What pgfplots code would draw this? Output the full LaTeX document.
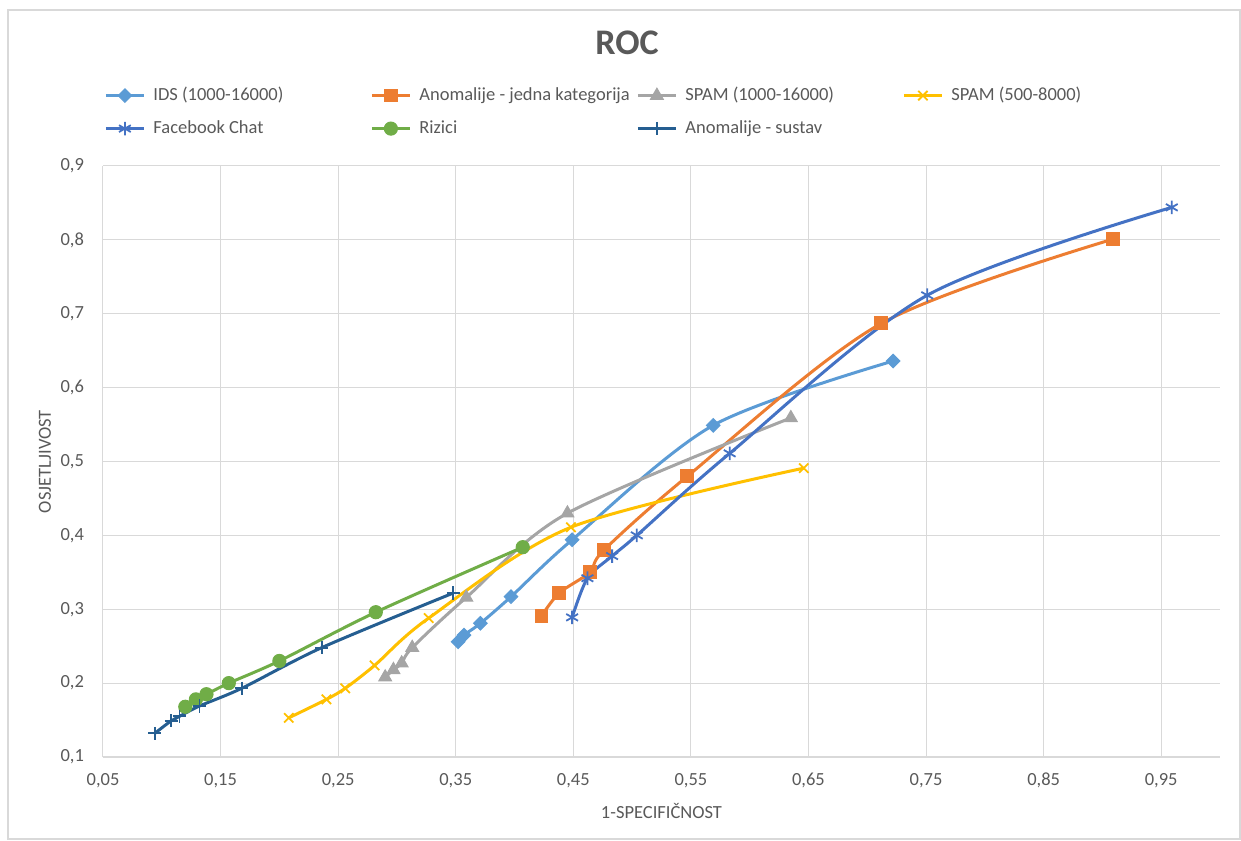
\documentclass[border=0pt]{standalone}
\usepackage{pgfplots}
\pgfplotsset{compat=1.18}
\usepackage{fontspec}
\setmainfont{Carlito}
\definecolor{txt}{HTML}{595959}
\definecolor{gridc}{HTML}{D9D9D9}
\definecolor{cIDS}{HTML}{5B9BD5}
\definecolor{cAJ}{HTML}{ED7D31}
\definecolor{cSa}{HTML}{A5A5A5}
\definecolor{cSb}{HTML}{FFC000}
\definecolor{cFB}{HTML}{4472C4}
\definecolor{cRZ}{HTML}{70AD47}
\definecolor{cAS}{HTML}{255E91}
\begin{document}
\begin{tikzpicture}
\path[use as bounding box] (-51.5pt,-41.5pt) rectangle (569pt,378.5pt);
\draw[gridc, line width=0.75pt] (-47.5pt,-41pt) rectangle (568.5pt,373.5pt);
\begin{axis}[
  at={(0pt,0pt)}, anchor=south west, scale only axis,
  width=558.5pt, height=295.5pt,
  xmin=0.05, xmax=1.0, ymin=0.1, ymax=0.9,
  xtick={0.05,0.15,0.25,0.35,0.45,0.55,0.65,0.75,0.85,0.95},
  ytick={0.1,0.2,0.3,0.4,0.5,0.6,0.7,0.8,0.9},
  scaled ticks=false,
  grid=major, major grid style={gridc, line width=0.5pt},
  axis x line*=bottom, axis y line*=left,
  y axis line style={draw=none},
  x axis line style={draw=gridc, line width=0.6pt},
  tick style={draw=none},
  /pgf/number format/assume math mode=true,
  ticklabel style={font=\fontsize{9.25}{11}\selectfont, text=txt},
  xticklabel style={/pgf/number format/fixed, /pgf/number format/fixed zerofill, /pgf/number format/precision=2, /pgf/number format/use comma, yshift=-4.5pt},
  yticklabel style={/pgf/number format/fixed, /pgf/number format/fixed zerofill, /pgf/number format/precision=1, /pgf/number format/use comma, xshift=-6pt},
  xlabel={1-SPECIFIČNOST}, ylabel={OSJETLJIVOST},
  every axis x label/.style={at={(axis description cs:0.5,0)}, anchor=center, yshift=-27pt, font=\fontsize{9.25}{11}\selectfont, text=txt},
  every axis y label/.style={at={(axis description cs:0,0.5)}, anchor=center, rotate=90, yshift=29pt, font=\fontsize{9.25}{11}\selectfont, text=txt},
  legend columns=4,
  legend cell align=left,
  legend image code/.code={\draw[mark repeat=2,mark phase=2,#1] plot coordinates {(0pt,0pt) (9.5pt,0pt) (19pt,0pt)};},
  legend style={at={(axis description cs:0,1)}, anchor=south west, xshift=0.5pt, yshift=13pt,
    draw=none, fill=none, inner sep=0pt, row sep=5.5pt,
    font=\fontsize{9.25}{11}\selectfont, text=txt,
    nodes={inner sep=1pt, text height=7pt, text depth=2pt},
    /tikz/every odd column/.style={column sep=3pt},
    /tikz/every even column/.style={column sep=0pt}},
  every axis plot/.append style={line width=1.5pt, smooth, tension=0.5},
]
\addplot[cIDS, mark=square*, mark size=2.4pt, mark options={rotate=45, line width=0.5pt}] coordinates {
(0.352,0.256) (0.357,0.265) (0.371,0.281) (0.397,0.317) (0.449,0.394) (0.569,0.549) (0.722,0.636)};
\addlegendentry{\makebox[107.5pt][l]{IDS (1000-16000)}}
\addplot[cAJ, mark=square*, mark size=3.2pt, mark options={line width=0.5pt}] coordinates {
(0.423,0.291) (0.438,0.322) (0.464,0.350) (0.476,0.380) (0.547,0.480) (0.712,0.687) (0.909,0.801)};
\addlegendentry{\makebox[107.5pt][l]{Anomalije - jedna kategorija}}
\addplot[cSa, mark=triangle*, mark size=3.7pt, mark options={line width=0.5pt}] coordinates {
(0.290,0.208) (0.297,0.218) (0.304,0.227) (0.313,0.248) (0.359,0.316) (0.445,0.430) (0.635,0.559)};
\addlegendentry{\makebox[107.5pt][l]{SPAM (1000-16000)}}
\addplot[cSb, mark=x, mark size=3.3pt, mark options={line width=0.9pt}] coordinates {
(0.208,0.153) (0.240,0.178) (0.256,0.193) (0.281,0.224) (0.327,0.288) (0.448,0.411) (0.646,0.491)};
\addlegendentry{SPAM (500-8000)}
\addplot[cFB, mark=asterisk, mark size=3.4pt, mark options={line width=0.9pt}] coordinates {
(0.449,0.289) (0.462,0.342) (0.483,0.372) (0.504,0.400) (0.583,0.511) (0.751,0.725) (0.959,0.844)};
\addlegendentry{\makebox[107.5pt][l]{Facebook Chat}}
\addplot[cRZ, mark=*, mark size=3.3pt, mark options={line width=0.5pt}] coordinates {
(0.120,0.168) (0.129,0.178) (0.138,0.185) (0.157,0.200) (0.200,0.230) (0.282,0.296) (0.407,0.384)};
\addlegendentry{\makebox[107.5pt][l]{Rizici}}
\addplot[cAS, mark=+, mark size=3.3pt, mark options={line width=0.9pt}] coordinates {
(0.094,0.132) (0.108,0.149) (0.115,0.155) (0.132,0.169) (0.168,0.193) (0.236,0.248) (0.348,0.322)};
\addlegendentry{\makebox[107.5pt][l]{Anomalije - sustav}}
\end{axis}
\node[font=\fontsize{18}{21}\selectfont\bfseries, text=txt] at (262pt,357pt) {ROC};
\end{tikzpicture}
\end{document}
